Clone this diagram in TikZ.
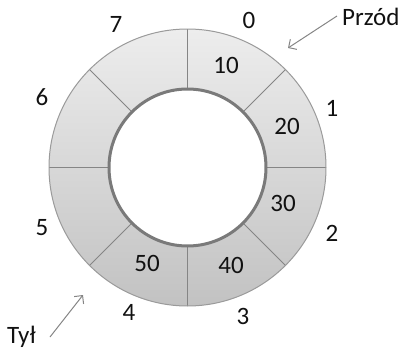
\documentclass[tikz,border=0pt]{standalone}
\usepackage{fontspec}
\setmainfont{Carlito}
\usetikzlibrary{arrows.meta,calc}
\definecolor{ringtop}{HTML}{EDEDED}
\definecolor{ringbot}{HTML}{C2C2C2}
\definecolor{edgegray}{HTML}{9A9A9A}
\definecolor{spokegray}{HTML}{858585}
\definecolor{innergray}{HTML}{7A7A7A}
\definecolor{txt}{HTML}{111111}
\tikzset{
  lbl/.style={font=\fontsize{25}{29}\selectfont, text=txt, inner sep=0pt},
  spoke/.style={draw=spokegray, line width=0.9pt},
  pointer/.style={draw=spokegray, line width=1pt, -{Straight Barb[length=6pt,width=12pt]}}
}
\begin{document}
\begin{tikzpicture}[x=1pt,y=-1pt]
\useasboundingbox (0,0) rectangle (400,351);
\coordinate (c) at (187.5,167.5);
\shade[top color=ringtop, bottom color=ringbot, even odd rule] (c) circle (138.5) (c) circle (78.5);
\foreach \a in {0,45,...,315} {
  \draw[spoke] ($(c)+(\a:78.5)$) -- ($(c)+(\a:138.5)$);
}
\draw[draw=edgegray, line width=1pt] (c) circle (138.5);
\draw[draw=innergray, line width=3pt] (c) circle (78.5);
% indices
\node[lbl] (i0) at (249,20) {0};
\node[lbl] (i1) at (332,108) {1};
\node[lbl] (i2) at (332,233) {2};
\node[lbl] (i3) at (243,316) {3};
\node[lbl] (i4) at (129,312) {4};
\node[lbl] (i5) at (42,228) {5};
\node[lbl] (i6) at (42,97) {6};
\node[lbl] (i7) at (116,24) {7};
% values
\node[lbl] (v10) at (226,65) {10};
\node[lbl] (v20) at (287,126) {20};
\node[lbl] (v30) at (283,203) {30};
\node[lbl] (v40) at (231,265) {40};
\node[lbl] (v50) at (147,263) {50};
% pointers
\node[lbl, anchor=west] (front) at (342,17) {Przód};
\node[lbl, anchor=base west] (rear) at (7,343) {Tył};
\coordinate (fronttip) at (288,48);
\coordinate (reartip) at (83,295);
\coordinate (frontstart) at (337,16);
\coordinate (rearstart) at (50,337);
\draw[pointer] (frontstart) -- (fronttip);
\draw[pointer] (rearstart) -- (reartip);
\end{tikzpicture}
\end{document}
